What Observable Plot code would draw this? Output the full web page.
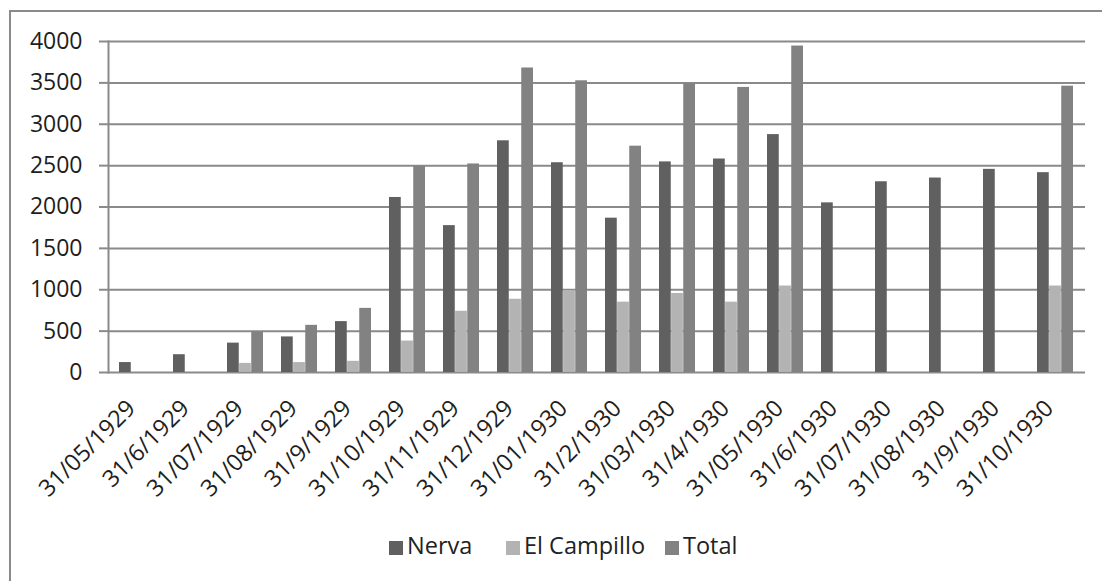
<!DOCTYPE html>
<html>
<head>
<meta charset="utf-8">
<script src="https://cdn.jsdelivr.net/npm/d3@7"></script>
<script src="https://cdn.jsdelivr.net/npm/@observablehq/plot@0.6"></script>
<style>
  html, body { margin: 0; padding: 0; background: #fff; overflow: hidden; }
  body { width: 1102px; height: 581px; position: relative; font-family: "Open Sans", sans-serif; }
  #frame { position: absolute; left: 9px; top: 10px; width: 1200px; height: 700px; border-left: 2px solid #8a8a8a; border-top: 2px solid #8a8a8a; }
  #chart { position: absolute; left: 0; top: 0; }
  #legend { position: absolute; top: 528px; left: 0; width: 1102px; height: 34px; font-size: 23.5px; color: #222; }
  .item { position: absolute; top: 0; height: 34px; line-height: 34px; white-space: nowrap; }
  .sw { display: inline-block; width: 14px; height: 14px; margin-right: 4px; vertical-align: -1px; }
</style>
</head>
<body>
<div id="frame"></div>
<div id="chart"></div>
<div id="legend"></div>
<script>
const dates = ["31/05/1929","31/6/1929","31/07/1929","31/08/1929","31/9/1929","31/10/1929","31/11/1929","31/12/1929","31/01/1930","31/2/1930","31/03/1930","31/4/1930","31/05/1930","31/6/1930","31/07/1930","31/08/1930","31/9/1930","31/10/1930"];
const nerva = [120, 215, 355, 430, 615, 2115, 1775, 2800, 2535, 1865, 2545, 2580, 2875, 2050, 2305, 2350, 2455, 2415];
const campillo = [null, null, 110, 120, 135, 380, 740, 885, 990, 850, 955, 850, 1045, null, null, null, null, 1045];
const total = [null, null, 490, 570, 775, 2495, 2520, 3680, 3525, 2735, 3490, 3445, 3945, null, null, null, null, 3460];
const seriesNames = ["Nerva", "El Campillo", "Total"];
const seriesColors = ["#606060", "#b3b3b3", "#828282"];
const yTicks = [0, 500, 1000, 1500, 2000, 2500, 3000, 3500, 4000];

const W = 1102, H = 520, mL = 108, mR = 17, mT = 41, mB = 148;
const pIn = 0.33, pOut = 0.165;
const step = (W - mL - mR) / (dates.length - pIn + 2 * pOut);
const third = step * (1 - pIn) / 3;

const allSeries = [nerva, campillo, total];
const barMarks = allSeries.map((arr, k) => {
  const rows = dates.map((d, i) => ({date: d, value: arr[i]})).filter(r => r.value != null);
  return Plot.barY(rows, {
    x: "date", y: "value", fill: seriesColors[k],
    insetLeft: third * k, insetRight: third * (2 - k)
  });
});

const plot = Plot.plot({
  width: W, height: H,
  marginLeft: mL, marginRight: mR, marginTop: mT, marginBottom: mB,
  style: {fontFamily: "Open Sans, sans-serif", fontSize: "23px", color: "#1e1e1e", background: "transparent"},
  x: {domain: dates, type: "band", paddingInner: pIn, paddingOuter: pOut},
  y: {domain: [0, 4000]},
  marks: [
    Plot.gridY(yTicks, {stroke: "#8a8a8a", strokeOpacity: 1, strokeWidth: 2}),
    Plot.frame({anchor: "left", stroke: "#8a8a8a", strokeWidth: 2}),
    ...barMarks,
    Plot.axisY(yTicks, {tickSize: 9, tickPadding: 17, stroke: "#8a8a8a", strokeWidth: 2, label: null, fontSize: 23, tickFormat: d => String(d)}),
    Plot.axisX({tickSize: 0, tickRotate: -45, tickPadding: 0, dx: -6, dy: 32, label: null, fontSize: 23.5})
  ]
});
document.getElementById("chart").appendChild(plot);

const legend = document.getElementById("legend");
const legendX = [389, 506, 665];
seriesNames.forEach((name, k) => {
  const it = document.createElement("div");
  it.className = "item";
  it.style.left = legendX[k] + "px";
  const sw = document.createElement("span");
  sw.className = "sw";
  sw.style.background = seriesColors[k];
  it.appendChild(sw);
  it.appendChild(document.createTextNode(name));
  legend.appendChild(it);
});
</script>
</body>
</html>
